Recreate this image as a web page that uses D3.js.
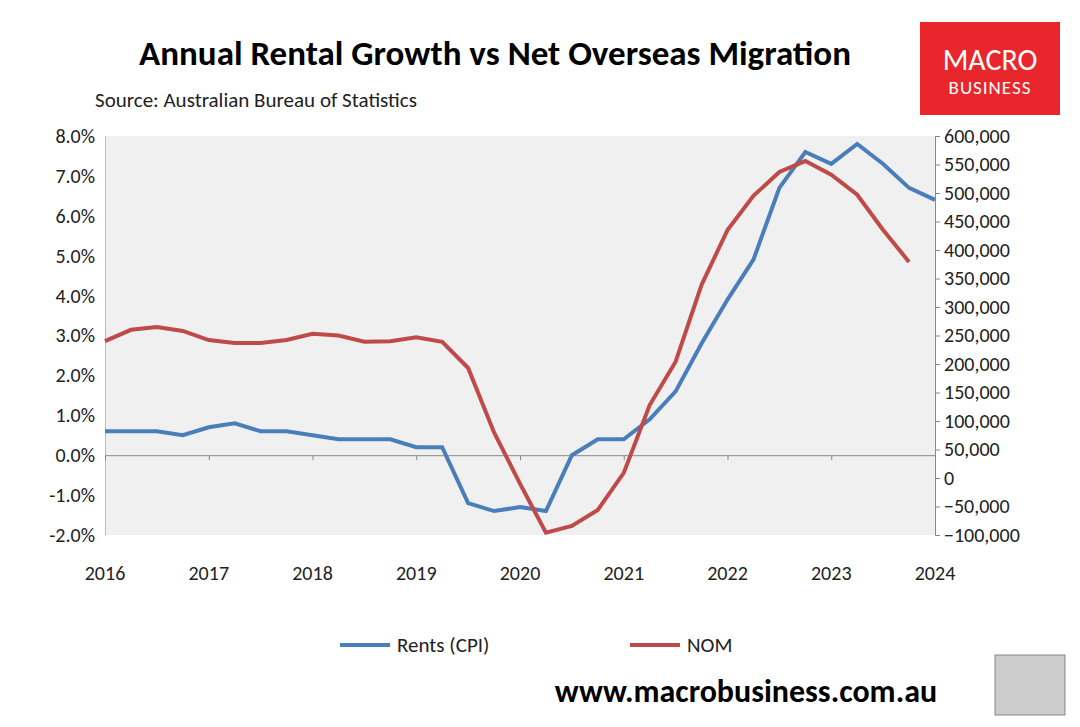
<!DOCTYPE html>
<html><head><meta charset="utf-8">
<script src="https://cdn.jsdelivr.net/npm/d3@7"></script>
<style>body{margin:0;background:#fff}svg text{font-family:Carlito,Lato,"Open Sans",sans-serif}</style>
</head><body><svg id="c" width="1080" height="727"></svg>
<script>
var years = [2016, 2017, 2018, 2019, 2020, 2021, 2022, 2023, 2024];
var rents = [0.6,0.6,0.6,0.5,0.7,0.8,0.6,0.6,0.5,0.4,0.4,0.4,0.2,0.2,-1.2,-1.4,-1.3,-1.4,0.0,0.4,0.4,0.9,1.6,2.8,3.9,4.9,6.7,7.6,7.3,7.8,7.3,6.7,6.4];
var nom = [240000,260000,265000,258000,242000,237000,237000,242000,253000,250000,239000,240000,247000,239000,193000,80000,-10000,-96000,-84000,-56000,9000,128000,204000,339000,435000,495000,537000,556000,532000,497000,435000,379000];
var leftTicks = [-2,-1,0,1,2,3,4,5,6,7,8];
var rightTicks = d3.range(-100000, 600001, 50000);

var svg = d3.select("#c");
var L = 105, R = 935, T = 136, B = 535;
var x = d3.scaleLinear().domain([2016, 2024]).range([L, R]);
var yl = d3.scaleLinear().domain([-2, 8]).range([B, T]);
var yr = d3.scaleLinear().domain([-100000, 600000]).range([B, T]);
var tq = function (i) { return 2016 + i / 4; };

svg.append("rect").attr("x", L).attr("y", T).attr("width", R - L).attr("height", B - T).attr("fill", "#f0f0f0");

var fs = "20px";
var la = svg.append("g").attr("transform", "translate(" + L + ",0)")
	.call(d3.axisLeft(yl).tickValues(leftTicks).tickSize(0).tickPadding(10).tickFormat(function (d) { return d.toFixed(1) + "%"; }));
la.select(".domain").attr("stroke", "#bbb");
la.selectAll("text").style("font-size", fs).attr("fill", "#222");

var ra = svg.append("g").attr("transform", "translate(" + R + ",0)")
	.call(d3.axisRight(yr).tickValues(rightTicks).tickSize(5).tickPadding(4).tickFormat(d3.format(",")));
ra.selectAll("path,line").attr("stroke", "#888");
ra.selectAll("text").style("font-size", fs).attr("fill", "#222");

var xa = svg.append("g").attr("transform", "translate(0," + yl(0) + ")")
	.call(d3.axisBottom(x).tickValues(years).tickSize(5).tickFormat(""));
xa.selectAll("path,line").attr("stroke", "#888");
svg.append("g").selectAll("text").data(years).join("text")
	.attr("x", function (d) { return x(d); }).attr("y", 580).attr("text-anchor", "middle")
	.style("font-size", fs).attr("fill", "#222").text(function (d) { return d; });

svg.append("path").datum(rents).attr("fill", "none").attr("stroke", "#4a7ebb").attr("stroke-width", 4)
	.attr("d", d3.line().x(function (d, i) { return x(tq(i)); }).y(function (d) { return yl(d); }));
svg.append("path").datum(nom).attr("fill", "none").attr("stroke", "#be4b48").attr("stroke-width", 4)
	.attr("d", d3.line().x(function (d, i) { return x(tq(i)); }).y(function (d) { return yr(d); }));

svg.append("text").attr("x", 495).attr("y", 65).attr("text-anchor", "middle")
	.style("font-size", "35px").style("font-weight", "bold").text("Annual Rental Growth vs Net Overseas Migration");
svg.append("text").attr("x", 95).attr("y", 107).style("font-size", "21px").attr("fill", "#222").text("Source: Australian Bureau of Statistics");

svg.append("rect").attr("x", 920).attr("y", 22).attr("width", 140).attr("height", 93).attr("fill", "#e8262b");
svg.append("text").attr("x", 990).attr("y", 70).attr("text-anchor", "middle").attr("fill", "#fff").style("font-size", "30px").text("MACRO");
svg.append("text").attr("x", 990).attr("y", 94).attr("text-anchor", "middle").attr("fill", "#fff").style("font-size", "19px").style("letter-spacing", "1px").text("BUSINESS");

var leg = [["Rents (CPI)", "#4a7ebb", 340], ["NOM", "#be4b48", 630]];
leg.forEach(function (d) {
	svg.append("line").attr("x1", d[2]).attr("x2", d[2] + 50).attr("y1", 645).attr("y2", 645).attr("stroke", d[1]).attr("stroke-width", 4);
	svg.append("text").attr("x", d[2] + 57).attr("y", 652).style("font-size", "21px").attr("fill", "#222").text(d[0]);
});

svg.append("text").attr("x", 746).attr("y", 702).attr("text-anchor", "middle").style("font-size", "32px").style("font-weight", "bold").text("www.macrobusiness.com.au");
svg.append("rect").attr("x", 995).attr("y", 655).attr("width", 70).attr("height", 60).attr("fill", "#ccc").attr("stroke", "#888");
</script></body></html>
